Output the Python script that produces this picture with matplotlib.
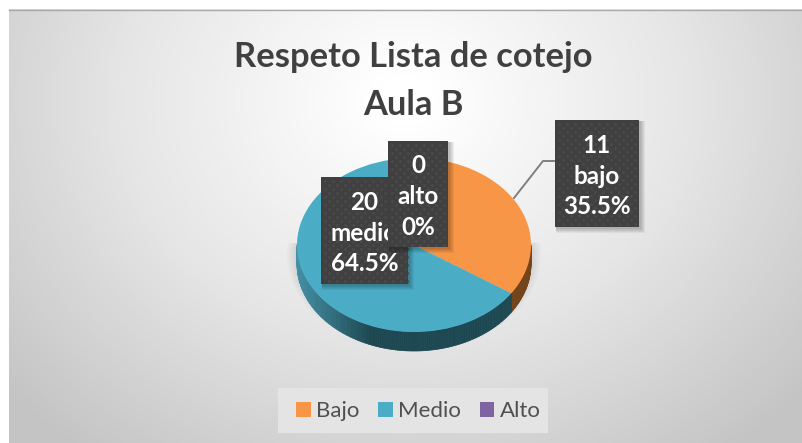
#!/usr/bin/env python3

import numpy as np
import matplotlib
matplotlib.use('Agg')
from matplotlib import pyplot as plt
from matplotlib.collections import PolyCollection
from matplotlib.colors import LinearSegmentedColormap
from matplotlib.patches import Ellipse, Rectangle

plt.rcParams['font.family'] = ['Lato', 'DejaVu Sans']

title = 'Respeto Lista de cotejo\nAula B'
categories = ['Bajo', 'Medio', 'Alto']
label_names = ['bajo', 'medio', 'alto']
values = [11, 20, 0]
percents = ['35.5%', '64.5%', '0%']
colors = ['#F79646', '#4BACC6', '#8064A2']

W, H = 802, 443
fig = plt.figure(figsize=(W / 100, H / 100), dpi=100, facecolor='white')

# background, all pixel coords
bg = fig.add_axes([0, 0, 1, 1], zorder=0)
bg.set_xlim(0, W)
bg.set_ylim(H, 0)
bg.axis('off')
yy, xx = np.mgrid[9:H, 9:W]
dist = np.sqrt(((xx - 405) / 560.0) ** 2 + ((yy - 100) / 470.0) ** 2)
cmap = LinearSegmentedColormap.from_list('bg', ['#ffffff', '#e6e6e6', '#c4c4c4'])
bg.imshow(dist, extent=(9, W, H, 9), cmap=cmap, vmin=0.05, vmax=0.95, aspect='auto')
bg.plot([9, W], [9.5, 9.5], color='#a9a9a9', lw=1)
bg.set_xlim(0, W)
bg.set_ylim(H, 0)

# soft shadow under the pie
clip = Rectangle((0, 243), W, H, transform=bg.transData)
for grow in range(0, 12, 2):
    e = Ellipse((414, 254), 2 * 117 + 2 * grow, 2 * 87 + 2 * grow, color='black', alpha=0.018, lw=0)
    bg.add_patch(e)
    e.set_clip_path(clip)

# pie axes, squashed to an ellipse
cx, cy, a, b = 414, 245, 117, 87
lim = 1.35
start = 94
pie_ax = fig.add_axes([(cx - a * lim) / W, 1 - (cy + b * lim) / H, 2 * a * lim / W, 2 * b * lim / H], zorder=1)
wedges, _ = pie_ax.pie(values, colors=colors, startangle=start, counterclock=False, radius=1)
pie_ax.set_aspect('auto')
pie_ax.set_xlim(-lim, lim)
pie_ax.set_ylim(-lim, lim)
for w in wedges:
    w.set_zorder(5)

# side of the pie
depth = 19 / b
edges = start - 360 * np.cumsum([0] + values) / sum(values)
polys = []
cols = []
side_light = np.array(matplotlib.colors.to_rgb('#4490A6'))
side_dark = np.array(matplotlib.colors.to_rgb('#1D4852'))
brown = np.array(matplotlib.colors.to_rgb('#74441A'))
for t in np.arange(-180, 0, 1.0):
    t2 = t + 1.0
    x1, y1 = np.cos(np.radians(t)), np.sin(np.radians(t))
    x2, y2 = np.cos(np.radians(t2)), np.sin(np.radians(t2))
    polys.append([(x1, y1), (x2, y2), (x2, y2 - depth), (x1, y1 - depth)])
    if t >= edges[1]:
        cols.append(brown)
    else:
        k = np.clip((x1 + 1) / 0.62, 0, 1)
        cols.append(side_light * (1 - k) + side_dark * k)
pie_ax.add_collection(PolyCollection(polys, facecolors=cols, edgecolors=cols, lw=0.5, zorder=4))

# title, labels, legend
top = fig.add_axes([0, 0, 1, 1], zorder=2)
top.set_xlim(0, W)
top.set_ylim(H, 0)
top.axis('off')
top.patch.set_alpha(0)

top.text(413.5, 81, title, ha='center', va='center', fontsize=24.8, fontweight='bold',
         color='#404040', linespacing=1.6)

top.plot([514, 543, 555], [198, 161, 161], color='#7f7f7f', lw=1.4, zorder=2)


def label_box(x0, y0, x1, y1, i, z):
    for s in range(1, 6):
        top.add_patch(Rectangle((x0 + 1, y0 + 1), x1 - x0 + s, y1 - y0 + s, color='black', alpha=0.05, lw=0, zorder=z))
    box = Rectangle((x0, y0), x1 - x0, y1 - y0, color='#404040', lw=0, zorder=z + 0.1)
    top.add_patch(box)
    gx, gy = np.meshgrid(np.arange(x0 + 4, x1, 8), np.arange(y0 + 4, y1, 4))
    gx = gx + 4 * (np.arange(gy.shape[0])[:, None] % 2)
    dots = top.scatter(gx.ravel(), gy.ravel(), s=5, color='#494949', lw=0, zorder=z + 0.2)
    dots.set_clip_path(box)
    top.text((x0 + x1) / 2, (y0 + y1) / 2 + 2.5, '%d\n%s\n%s' % (values[i], label_names[i], percents[i]),
             ha='center', va='center', fontsize=17.5, fontweight='bold', color='white',
             linespacing=1.4, zorder=z + 0.3)


label_box(555, 120, 639, 227, 0, 3)
label_box(321, 177, 408, 284, 1, 4)
label_box(388, 141, 448, 247, 2, 5)

top.add_patch(Rectangle((278, 388), 270, 45, color='#e4e4e4', lw=0, zorder=5.8))
leg = top.legend(wedges, categories, ncol=3, loc='center', bbox_to_anchor=(418.5 / W, 1 - 411 / H),
                 bbox_transform=fig.transFigure, frameon=False, fontsize=16, labelcolor='#505050',
                 handlelength=0.64, handleheight=0.64, handletextpad=0.25, columnspacing=0.85,
                 borderpad=0)
leg.set_zorder(6)

fig.savefig('out.png', dpi=100, facecolor='white')
